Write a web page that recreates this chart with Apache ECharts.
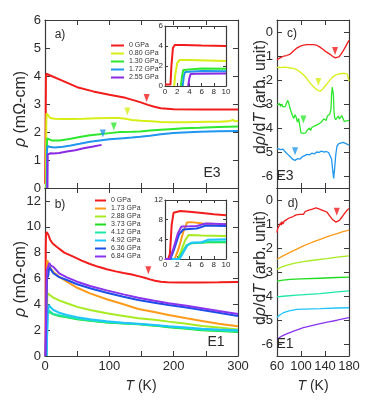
<!DOCTYPE html>
<html>
<head>
<meta charset="utf-8">
<script src="https://cdn.jsdelivr.net/npm/echarts@6/dist/echarts.min.js"></script>
<style>
  html, body { margin: 0; padding: 0; background: #fff; }
  #chart { width: 382px; height: 404px; }
</style>
</head>
<body>
<div id="chart"></div>
<script>
// ---------- data (T in K, rho in mOhm-cm / drho/dT arb.) ----------
const namesA = ['0 GPa', '0.80 GPa', '1.30 GPa', '1.72 GPa', '2.55 GPa']
const namesB = ['0 GPa', '1.73 GPa', '2.88 GPa', '3.73 GPa', '4.12 GPa', '4.92 GPa', '6.36 GPa', '6.84 GPa']

// panel a, sample E3
const a0 = [[0.3,0.15],[0.9,0.15],[1.1,2.5],[1.4,3.9],[2,4.08],[5,4.06],[10,4.0],[25,3.85],[50,3.6],[75,3.45],[100,3.33],[125,3.22],[140,3.12],[150,3.05],[160,2.97],[170,2.9],[180,2.85],[200,2.81],[240,2.8],[270,2.8],[300,2.8]]
const a1 = [[1.5,0],[2.0,2.3],[2.5,2.67],[4,2.6],[8,2.5],[15,2.47],[23,2.46],[40,2.46],[60,2.47],[80,2.49],[100,2.5],[115,2.5],[125,2.47],[135,2.43],[150,2.4],[165,2.38],[180,2.36],[200,2.35],[220,2.35],[250,2.37],[270,2.37],[285,2.38],[292,2.43],[296,2.38],[300,2.4]]
const a2 = [[2.6,0],[3.0,1.6],[3.5,1.77],[6,1.72],[10,1.7],[23,1.7],[40,1.76],[54,1.82],[70,1.88],[85,1.92],[100,1.96],[117,2.0],[135,2.01],[148,2.02],[163,2.05],[180,2.08],[200,2.11],[215,2.13],[240,2.15],[270,2.18],[300,2.2]]
const a3 = [[2.9,0],[3.3,1.4],[4,1.5],[8,1.46],[15,1.45],[28,1.47],[40,1.52],[54,1.58],[70,1.65],[85,1.7],[100,1.74],[117,1.77],[135,1.8],[148,1.83],[163,1.87],[180,1.92],[200,1.96],[215,1.98],[240,2.01],[270,2.03],[300,2.04]]
const a4 = [[3.8,0],[4.2,1.2],[5,1.26],[9,1.24],[13,1.23],[22,1.25],[34,1.3],[47,1.35],[60,1.42],[75,1.48],[88,1.54]]
const aMarks = [[158,3.21],[128,2.73],[107,2.2],[90,1.95]]

// inset of panel a (0-10 K)
const ia0 = [[0,0.15],[0.9,0.15],[1.05,2],[1.3,3.8],[1.6,4.1],[3,4.1],[6,4.05],[10,4.0]]
const ia1 = [[1.5,0],[1.7,1.2],[2.0,2.3],[2.4,2.6],[4,2.6],[7,2.55],[10,2.5]]
const ia2 = [[2.6,0],[2.8,1.0],[3.0,1.6],[3.3,1.77],[6,1.75],[10,1.72]]
const ia3 = [[2.9,0],[3.1,1.0],[3.3,1.4],[3.6,1.5],[6,1.5],[10,1.48]]
const ia4 = [[3.8,0],[4.0,0.8],[4.2,1.2],[5,1.22],[10,1.25]]

// panel b, sample E1
const b0 = [[0.5,0],[0.9,0.5],[1.2,8.5],[1.5,9.4],[2.5,9.6],[5,9.4],[8,9.0],[12,8.7],[18,8.45],[30,8.0],[44,7.69],[57,7.38],[70,7.12],[83,6.9],[96,6.71],[110,6.55],[122,6.42],[135,6.3],[145,6.18],[155,6.06],[163,5.93],[171,5.83],[180,5.75],[190,5.7],[210,5.68],[240,5.68],[270,5.7],[300,5.73]]
const b1 = [[1.6,0],[3,6.5],[3.6,7.4],[4.5,7.45],[6,7.1],[8,6.8],[13,6.5],[20,6.2],[34,5.75],[50,5.28],[70,4.85],[96,4.39],[122,4.0],[145,3.64],[170,3.4],[192,3.17],[220,2.92],[244,2.71],[270,2.5],[300,2.3]]
const b2 = [[2.1,0],[3.5,4.5],[4,4.85],[6,4.75],[13,4.51],[22,4.3],[34,4.08],[50,3.8],[70,3.56],[96,3.3],[122,3.1],[145,2.92],[170,2.8],[192,2.66],[220,2.5],[244,2.32],[270,2.2],[300,2.06]]
const b3 = [[2.2,0],[3.5,3.2],[4.5,3.45],[8,3.35],[13,3.22],[22,3.1],[34,3.0],[50,2.85],[70,2.72],[96,2.6],[122,2.52],[145,2.45],[170,2.35],[192,2.22],[220,2.1],[244,2.0],[270,1.93],[300,1.86]]
const b4 = [[2.3,0],[4,3.3],[5,3.55],[8,3.4],[13,3.25],[22,3.15],[34,3.04],[50,2.88],[70,2.74],[96,2.62],[122,2.54],[145,2.47],[170,2.38],[192,2.26],[220,2.14],[244,2.04],[270,1.97],[300,1.9]]
const b5 = [[2.4,0],[4.3,3.3],[6,3.95],[9,3.75],[13,3.56],[22,3.35],[34,3.17],[50,3.0],[70,2.84],[96,2.68],[122,2.58],[145,2.5],[170,2.4],[192,2.3],[220,2.2],[244,2.1],[270,2.05],[300,2.0]]
const b6 = [[0.9,0],[3,6.0],[5,6.2],[6.6,6.9],[9,6.7],[13,6.4],[22,6.1],[34,5.88],[50,5.55],[70,5.24],[96,4.9],[122,4.59],[145,4.33],[170,4.12],[192,3.95],[220,3.75],[244,3.56],[270,3.35],[300,3.1]]
const b7 = [[0.8,0],[2.7,6.6],[5.2,6.7],[6.6,7.2],[9,7.0],[13,6.9],[22,6.4],[34,6.09],[50,5.75],[70,5.42],[96,5.08],[122,4.77],[145,4.51],[170,4.28],[192,4.08],[220,3.88],[244,3.69],[270,3.48],[300,3.25]]
const bMarks = [[160.6,6.63]]

// inset of panel b (0-10 K)
const ib0 = [[0,0],[0.5,0],[0.8,1],[1.1,7],[1.4,9.4],[2.5,9.76],[4,9.6],[5.7,9.4],[8,9.1],[10,8.9]]
const ib1 = [[0,0],[1.6,0],[2.2,2],[3,5.5],[3.6,7.4],[4.3,7.5],[6.2,7.2],[8,7.15],[10,7.1]]
const ib2 = [[0,0],[2.1,0],[2.6,1.5],[3.3,3.8],[3.9,4.9],[6,4.8],[8,4.75],[10,4.7]]
const ib3 = [[0,0],[2.2,0],[2.8,1.2],[3.5,2.7],[4.3,3.2],[6,3.3],[7,3.4],[10,3.4]]
const ib4 = [[0,0],[2.3,0],[2.9,1.3],[3.6,2.8],[4.3,3.25],[6,3.35],[7,3.55],[10,3.55]]
const ib5 = [[0,0],[2.4,0],[3.0,1.3],[3.7,2.8],[4.3,3.3],[6,3.4],[7,3.9],[10,4.0]]
const ib6 = [[0,0],[0.9,0],[1.5,2],[2.3,5],[3,6.0],[4,6.1],[5.2,6.2],[6,6.5],[6.6,6.8],[8,6.75],[10,6.7]]
const ib7 = [[0,0],[0.8,0],[1.4,2.2],[2.1,5.2],[2.7,6.6],[4,6.65],[5.2,6.7],[6,7.0],[6.6,7.2],[8,7.15],[10,7.05]]

// panel c, drho/dT of E3
const c0 = [[60,-1.15],[65,-1.08],[71,-1.01],[76,-0.98],[82,-0.92],[88,-0.78],[93,-0.67],[98,-0.6],[104,-0.55],[110,-0.53],[115,-0.53],[120,-0.53],[126,-0.55],[131,-0.62],[137,-0.73],[142,-0.83],[148,-0.92],[152,-1.0],[157,-1.08],[160,-1.1],[163,-1.04],[166,-0.95],[170,-0.8],[174,-0.62],[179,-0.39],[180,-0.35]]
const c1 = [[60,-1.47],[66,-1.48],[72,-1.46],[77,-1.47],[82,-1.5],[88,-1.52],[93,-1.57],[98,-1.66],[104,-1.78],[110,-1.95],[115,-2.12],[120,-2.26],[126,-2.4],[132,-2.47],[136,-2.38],[140,-2.26],[146,-2.08],[151,-1.92],[156,-1.82],[162,-1.75],[167,-1.73],[173,-1.72],[177,-1.75],[180,-2.05]]
const c2 = [[60,-3.03],[62,-3.05],[64,-2.98],[66,-3.1],[68,-3.0],[70,-3.12],[72,-3.2],[74,-3.1],[76,-2.95],[78,-2.85],[80,-3.0],[82,-3.2],[84,-3.15],[86,-3.5],[88,-3.6],[90,-3.45],[92,-3.55],[94,-3.75],[96,-3.6],[98,-3.9],[100,-4.2],[102,-4.28],[104,-4.22],[106,-4.15],[108,-4.2],[110,-4.1],[112,-4.15],[114,-4.0],[116,-4.1],[118,-3.98],[120,-4.05],[122,-3.92],[124,-4.0],[126,-3.88],[128,-3.95],[130,-3.82],[132,-3.9],[134,-3.75],[136,-3.8],[138,-3.62],[140,-3.6],[142,-3.68],[144,-3.5],[146,-3.48],[148,-3.42],[150,-3.2],[151,-2.6],[152,-2.3],[153,-2.28],[154,-2.6],[155,-3.3],[156,-3.55],[158,-3.65],[160,-3.6],[162,-3.5],[164,-3.62],[166,-3.55],[168,-3.48],[170,-3.6],[172,-3.72],[174,-3.65],[176,-3.7],[178,-3.66],[180,-3.68]]
const c3 = [[60,-4.85],[63,-4.8],[66,-4.9],[70,-4.88],[74,-5.0],[78,-5.1],[82,-5.2],[86,-5.3],[90,-5.35],[94,-5.28],[98,-5.3],[102,-5.2],[106,-5.15],[110,-5.1],[114,-5.12],[118,-5.05],[122,-5.08],[126,-5.0],[130,-5.02],[134,-4.96],[138,-5.0],[142,-4.98],[146,-5.02],[149,-5.05],[151,-5.3],[153,-5.8],[154.5,-6.1],[156,-5.7],[158,-5.1],[160,-4.75],[163,-4.65],[166,-4.62],[170,-4.6],[175,-4.65],[180,-4.72]]
const cMarks = [[156.8,-0.79],[129,-2.08],[104,-3.65],[90,-4.97]]

// panel d, drho/dT of E1
const d0 = [[60,-1.36],[61,-1.2],[62,-1.15],[63,-1.25],[64,-1.05],[65,-1.12],[66,-0.95],[67,-1.05],[68,-0.9],[70,-1.0],[72,-0.88],[74,-0.92],[76,-0.82],[78,-0.88],[80,-0.75],[83,-0.8],[86,-0.7],[89,-0.74],[92,-0.62],[95,-0.66],[98,-0.6],[101,-0.55],[104,-0.6],[107,-0.48],[110,-0.5],[113,-0.42],[116,-0.46],[119,-0.38],[122,-0.42],[125,-0.33],[128,-0.4],[131,-0.38],[134,-0.46],[137,-0.44],[140,-0.52],[143,-0.5],[146,-0.6],[149,-0.7],[152,-0.8],[155,-0.88],[158,-0.92],[161,-0.9],[164,-0.85],[167,-0.75],[170,-0.65],[173,-0.55],[176,-0.45],[180,-0.35]]
const d1 = [[60,-2.47],[70,-2.33],[80,-2.2],[93,-2.05],[105,-1.9],[118,-1.77],[132,-1.64],[145,-1.52],[160,-1.4],[170,-1.32],[180,-1.26]]
const d2 = [[60,-2.89],[68,-2.79],[77,-2.71],[90,-2.63],[104,-2.57],[120,-2.51],[143,-2.44],[160,-2.38],[180,-2.33]]
const d3 = [[60,-3.38],[70,-3.34],[82,-3.31],[100,-3.29],[132,-3.26],[160,-3.23],[180,-3.21]]
const d4 = [[60,-4.04],[70,-4.01],[93,-3.96],[132,-3.9],[160,-3.83],[180,-3.79]]
const d5 = [[60,-4.9],[64,-4.8],[71,-4.69],[80,-4.62],[93,-4.56],[132,-4.53],[160,-4.5],[180,-4.49]]
const d6 = [[60,-5.8],[68,-5.67],[77,-5.57],[90,-5.44],[104,-5.32],[118,-5.23],[132,-5.15],[146,-5.08],[160,-5.01],[180,-4.9]]
const dMarks = [[159.6,-0.49]]

// ---------- styles ----------
const colA = ['#f21c1c', '#d8ee16', '#2ee82e', '#2196ee', '#8a2be2']
const colB = ['#f21c1c', '#ff9a1a', '#a8ea22', '#1fdc1f', '#1fe8a6', '#22c4ff', '#1c4fe8', '#8a34ee']
const colD = ['#f21c1c', '#ff9a1a', '#a8ea22', '#1fdc1f', '#1fe8a6', '#22c4ff', '#8a34ee']
const AX = '#3a3a3a'
const FONT = 'Liberation Sans, Arial, sans-serif'

// grids: 0 a, 1 b, 2 c, 3 d, 4 inset a, 5 inset b
const grids = [
  { left: 45, top: 20, width: 193, height: 168 },
  { left: 45, top: 188, width: 193, height: 168 },
  { left: 277, top: 20, width: 72, height: 168 },
  { left: 277, top: 188, width: 72, height: 168 },
  { left: 165, top: 26, width: 61, height: 60, show: true, backgroundColor: '#fff', borderWidth: 0 },
  { left: 165, top: 200, width: 61, height: 59, show: true, backgroundColor: '#fff', borderWidth: 0 }
]

function axisPair(kind, gi, min, max, ticks, labels, fs, tlen) {
  const pos = kind === 'x' ? ['bottom', 'top'] : ['left', 'right']
  return pos.map((p, k) => ({
    type: 'value', gridIndex: gi, position: p, min: min, max: max,
    splitLine: { show: false },
    axisLine: { show: true, onZero: false, lineStyle: { color: AX, width: 1.2 } },
    axisTick: { show: true, inside: true, length: tlen, customValues: ticks, lineStyle: { color: AX, width: 1 } },
    axisLabel: {
      show: k === 0 && labels.length > 0, customValues: labels,
      fontSize: fs, color: '#2a2a2a', fontFamily: FONT, margin: fs > 10 ? 4 : 2
    }
  }))
}

const xAxes = [].concat(
  axisPair('x', 0, 0, 300, [0,50,100,150,200,250,300], [], 12, 5),
  axisPair('x', 1, 0, 300, [0,50,100,150,200,250,300], [0,100,200,300], 13, 5),
  axisPair('x', 2, 60, 180, [60,100,140,180], [], 12, 5),
  axisPair('x', 3, 60, 180, [60,100,140,180], [60,100,140,180], 13, 5),
  axisPair('x', 4, 0, 10, [0,2,4,6,8,10], [0,2,4,6,8,10], 8, 3),
  axisPair('x', 5, 0, 10, [0,2,4,6,8,10], [0,2,4,6,8,10], 8, 3)
)
const yAxes = [].concat(
  axisPair('y', 0, 0, 6, [0,1,2,3,4,5,6], [0,1,2,3,4,5,6], 13, 5),
  axisPair('y', 1, 0, 13, [0,2,4,6,8,10,12], [0,2,4,6,8,10,12], 13, 5),
  axisPair('y', 2, -6.5, 0.5, [-6,-5,-4,-3,-2,-1,0], [-6,-5,-4,-3,-2,-1,0], 13, 5),
  axisPair('y', 3, -6.5, 0.5, [-6,-5,-4,-3,-2,-1,0], [-6,-5,-4,-3,-2,-1,0], 13, 5),
  axisPair('y', 4, 0, 6, [0,2,4,6], [0,2,4,6], 8, 3),
  axisPair('y', 5, 0, 12, [0,4,8,12], [0,4,8,12], 8, 3)
)

function line(name, data, color, gi, w) {
  return {
    type: 'line', name: name, data: data, xAxisIndex: gi * 2, yAxisIndex: gi * 2,
    showSymbol: false, symbol: 'none', lineStyle: { color: color, width: w }, itemStyle: { color: color },
    z: 3
  }
}
function marks(data, colors, gi) {
  return {
    type: 'scatter', name: 'marks' + gi, xAxisIndex: gi * 2, yAxisIndex: gi * 2,
    symbol: 'triangle', symbolRotate: 180, symbolSize: [6, 8], z: 5,
    data: data.map((p, i) => ({ value: p, itemStyle: { color: colors[i] } }))
  }
}

const series = []
;[a0, a1, a2, a3, a4].forEach((d, i) => series.push(line(namesA[i], d, colA[i], 0, 2)))
;[ia0, ia1, ia2, ia3, ia4].forEach((d, i) => series.push(line(namesA[i], d, colA[i], 4, 2)))
;[b0, b1, b2, b3, b4, b5, b6, b7].forEach((d, i) => series.push(line(namesB[i], d, colB[i], 1, 2)))
;[ib0, ib1, ib2, ib3, ib4, ib5, ib6, ib7].forEach((d, i) => series.push(line(namesB[i], d, colB[i], 5, 2)))
;[c0, c1, c2, c3].forEach((d, i) => series.push(line(namesA[i], d, colA[i], 2, 1.3)))
;[d0, d1, d2, d3, d4, d5, d6].forEach((d, i) => series.push(line('d' + i, d, colD[i], 3, 1.3)))
series.push(marks(aMarks, colA, 0))
series.push(marks(bMarks, colB, 1))
series.push(marks(cMarks, colA, 2))
series.push(marks(dMarks, colD, 3))

function txt(x, y, text, fs, extra) {
  return Object.assign({
    type: 'text', x: x, y: y, z: 10,
    style: {
      text: text, fontSize: fs, fontFamily: FONT, fill: '#2a2a2a',
      textAlign: 'center', textVerticalAlign: 'middle', align: 'center', verticalAlign: 'middle',
      rich: { i: { fontStyle: 'italic', fontSize: fs, fontFamily: FONT, fill: '#2a2a2a' } }
    }
  }, extra || {})
}

const graphics = [
  txt(60, 35, 'a)', 12), txt(60, 205, 'b)', 12), txt(292, 34, 'c)', 12), txt(293, 204, 'd)', 12),
  txt(212, 173, 'E3', 14), txt(216, 342, 'E1', 14), txt(285, 176, 'E3', 14), txt(285, 344, 'E1', 14),
  txt(21, 109, '{i|ρ} (mΩ-cm)', 16, { rotation: Math.PI / 2 }),
  txt(21, 279, '{i|ρ} (mΩ-cm)', 16, { rotation: Math.PI / 2 }),
  txt(261, 97, 'd{i|ρ}/d{i|T} (arb. unit)', 16, { rotation: Math.PI / 2 }),
  txt(261, 268, 'd{i|ρ}/d{i|T} (arb. unit)', 16, { rotation: Math.PI / 2 }),
  txt(141, 386, '{i|T} (K)', 14),
  txt(313, 386, '{i|T} (K)', 14)
]

const legendBase = {
  orient: 'vertical', icon: 'rect', itemHeight: 2, itemGap: 1,
  textStyle: { fontSize: 7, color: '#333', fontFamily: FONT, lineHeight: 7 },
  selectedMode: false
}

const chart = echarts.init(document.getElementById('chart'), null, { renderer: 'canvas' })
chart.setOption({
  animation: false,
  backgroundColor: '#fff',
  textStyle: { fontFamily: FONT },
  grid: grids,
  xAxis: xAxes,
  yAxis: yAxes,
  legend: [
    Object.assign({}, legendBase, { data: namesA, left: 106, top: 37, itemWidth: 13 }),
    Object.assign({}, legendBase, { data: namesB, left: 90, top: 192, itemWidth: 11 })
  ],
  graphic: graphics,
  series: series
})
</script>
</body>
</html>
